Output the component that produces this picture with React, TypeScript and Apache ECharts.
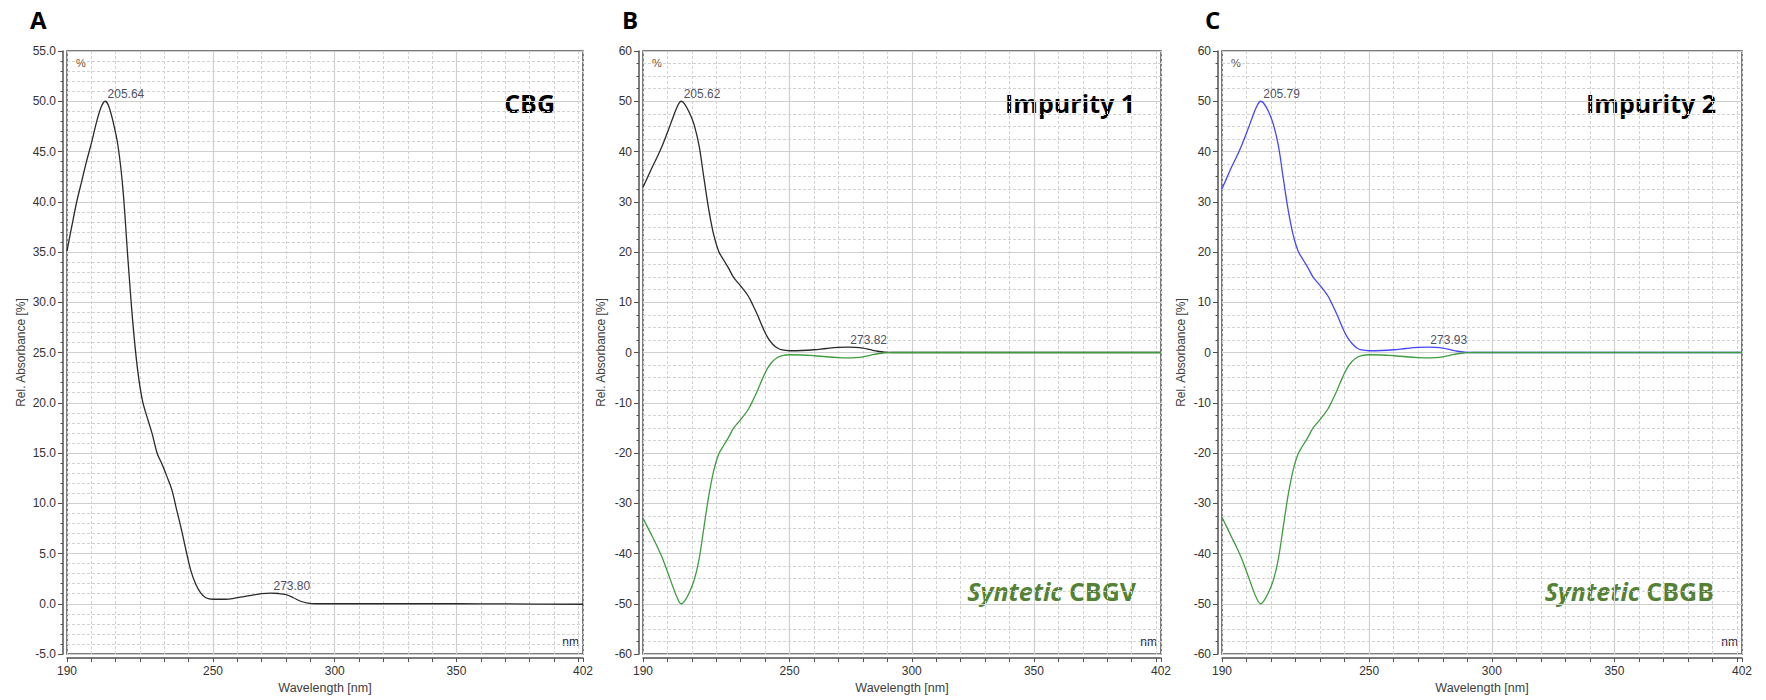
import React, { useEffect, useRef } from "react";
import * as echarts from "echarts";

// ---------------- data ----------------
const wavelengthA = [190, 192, 194, 196, 198, 200, 202, 204, 205.64, 207, 209, 211, 213, 215, 217, 219, 221, 223, 225, 227, 229, 231, 233, 235, 237, 239, 241, 243, 245, 247, 250, 255, 260, 265, 270, 273.8, 277, 280, 283, 286, 289, 292, 300, 350, 370, 402];
const absorbanceCBG = [35.1, 37.6, 40.0, 42.0, 44.0, 45.8, 47.8, 49.4, 50.0, 49.6, 47.9, 45.5, 41.2, 34.4, 28.1, 23.3, 20.2, 18.5, 16.9, 15.0, 13.9, 12.7, 11.4, 9.4, 7.4, 5.2, 3.2, 1.9, 1.05, 0.6, 0.45, 0.45, 0.6, 0.8, 1.0, 1.06, 1.02, 0.9, 0.6, 0.25, 0.06, 0.0, 0.0, 0.0, -0.02, -0.05];

const wavelengthB = [190, 192, 194, 196, 198, 200, 202, 204, 205.62, 207, 209, 211, 213, 215, 217, 219, 221, 223, 225, 227, 229, 231, 233, 235, 237, 239, 241, 243, 245, 247, 250, 255, 260, 265, 270, 273.82, 277, 280, 283, 286, 289, 292, 300, 350, 402];
const absorbanceImpurity1 = [32.9, 35.0, 37.1, 39.1, 41.3, 43.8, 46.4, 48.9, 50.0, 49.5, 47.7, 45.2, 41.0, 34.5, 28.2, 23.3, 20.1, 18.4, 16.8, 15.0, 13.8, 12.6, 11.3, 9.4, 7.3, 5.0, 3.0, 1.7, 0.9, 0.5, 0.35, 0.4, 0.55, 0.8, 1.0, 1.05, 1.0, 0.85, 0.55, 0.25, 0.06, 0.0, 0.0, 0.0, 0.0];
const absorbanceSynteticCBGV = [-33.0, -34.9, -36.8, -38.8, -41.0, -43.6, -46.3, -48.8, -50.0, -49.5, -47.7, -45.2, -41.0, -34.6, -28.3, -23.4, -20.2, -18.5, -16.9, -15.1, -13.9, -12.7, -11.4, -9.5, -7.4, -5.1, -3.1, -1.8, -1.0, -0.6, -0.45, -0.5, -0.65, -0.85, -1.0, -1.05, -1.0, -0.85, -0.55, -0.25, -0.06, 0.0, 0.0, 0.0, 0.0];

const wavelengthC = [190, 192, 194, 196, 198, 200, 202, 204, 205.79, 207, 209, 211, 213, 215, 217, 219, 221, 223, 225, 227, 229, 231, 233, 235, 237, 239, 241, 243, 245, 247, 250, 255, 260, 265, 270, 273.93, 277, 280, 283, 286, 289, 292, 300, 350, 402];
const absorbanceImpurity2 = [32.6, 34.8, 37.0, 39.0, 41.2, 43.7, 46.3, 48.8, 50.0, 49.6, 47.9, 45.3, 41.1, 34.6, 28.3, 23.4, 20.2, 18.5, 16.9, 15.1, 13.9, 12.7, 11.4, 9.5, 7.4, 5.1, 3.1, 1.8, 0.9, 0.5, 0.35, 0.4, 0.55, 0.8, 1.0, 1.05, 1.0, 0.85, 0.55, 0.25, 0.06, 0.0, 0.0, 0.0, 0.0];
const absorbanceSynteticCBGB = [-32.8, -34.8, -36.8, -38.8, -41.0, -43.6, -46.3, -48.8, -50.0, -49.5, -47.7, -45.2, -41.0, -34.6, -28.3, -23.4, -20.2, -18.5, -16.9, -15.1, -13.9, -12.7, -11.4, -9.5, -7.4, -5.1, -3.1, -1.8, -1.0, -0.6, -0.45, -0.5, -0.65, -0.85, -1.0, -1.05, -1.0, -0.85, -0.55, -0.25, -0.06, 0.0, 0.0, 0.0, 0.0];

const peaksA = [[205.64, 50.0], [273.8, 1.06]];
const peaksB = [[205.62, 50.0], [273.82, 1.05]];
const peaksC = [[205.79, 50.0], [273.93, 1.05]];

const xTickValues = [190, 200, 210, 220, 230, 240, 250, 260, 270, 280, 290, 300, 310, 320, 330, 340, 350, 360, 370, 380, 390, 400, 402];
const xLabelValues = [190, 250, 300, 350, 402];
const xMajorGridValues = [250, 300, 350];

// ---------------- styling ----------------
const FONT = "'Liberation Sans', Arial, sans-serif";
const TITLE_FONT = "'Open Sans', 'Noto Sans', sans-serif";
const AXIS_COLOR = "#505050";
const TEXT_COLOR = "#333333";
const BLACK = "#2a2a2a";
const BLUE = "#4646ff";
const GREEN = "#3f9c3f";
const TITLE_GREEN = "#548235";
const GRID_TOP = 51;
const GRID_HEIGHT = 603;

type Line = { wl: number[]; val: number[]; color: string };
type Panel = {
  left: number;
  width: number;
  yMin: number;
  yMax: number;
  yInterval: number;
  minorSplit: number;
  decimals: number;
  nameGap: number;
  lines: Line[];
  peaks: number[][];
};

const panels: Panel[] = [
  {
    left: 67, width: 516, yMin: -5, yMax: 55, yInterval: 5, minorSplit: 5, decimals: 1, nameGap: 36,
    lines: [{ wl: wavelengthA, val: absorbanceCBG, color: BLACK }],
    peaks: peaksA,
  },
  {
    left: 643, width: 518, yMin: -60, yMax: 60, yInterval: 10, minorSplit: 4, decimals: 0, nameGap: 32,
    lines: [
      { wl: wavelengthB, val: absorbanceImpurity1, color: BLACK },
      { wl: wavelengthB, val: absorbanceSynteticCBGV, color: GREEN },
    ],
    peaks: peaksB,
  },
  {
    left: 1222, width: 520, yMin: -60, yMax: 60, yInterval: 10, minorSplit: 4, decimals: 0, nameGap: 31,
    lines: [
      { wl: wavelengthC, val: absorbanceImpurity2, color: BLUE },
      { wl: wavelengthC, val: absorbanceSynteticCBGB, color: GREEN },
    ],
    peaks: peaksC,
  },
];

function buildOption() {
  const grid: any[] = [];
  const xAxis: any[] = [];
  const yAxis: any[] = [];
  const series: any[] = [];
  const graphic: any[] = [];

  panels.forEach((p, i) => {
    grid.push({
      left: p.left, top: GRID_TOP, width: p.width, height: GRID_HEIGHT,
      show: true, borderColor: AXIS_COLOR, borderWidth: 1.5, backgroundColor: "transparent",
      containLabel: false, outerBoundsMode: "none",
    });
    xAxis.push({
      type: "value", gridIndex: i, min: 190, max: 402, offset: 4, position: "bottom",
      name: "Wavelength [nm]", nameLocation: "middle", nameGap: 20,
      nameTextStyle: { fontFamily: FONT, fontSize: 12.5, color: "#404040" },
      axisLine: { show: true, onZero: false, lineStyle: { color: AXIS_COLOR, width: 1.5 } },
      axisTick: { show: true, length: 4, customValues: xTickValues, lineStyle: { color: AXIS_COLOR, width: 1 } },
      axisLabel: {
        show: true, customValues: xLabelValues, margin: 7, fontFamily: FONT, fontSize: 12, color: TEXT_COLOR,
        showMinLabel: true, showMaxLabel: true, hideOverlap: false,
      },
      splitLine: { show: true, lineStyle: { color: "#d2d2d2", width: 1, type: [3, 2] } },
    });
    xAxis.push({
      type: "value", gridIndex: i, min: 190, max: 402, position: "top",
      axisLine: { show: false }, axisLabel: { show: false },
      axisTick: { show: false, customValues: xMajorGridValues },
      splitLine: { show: true, lineStyle: { color: "#cfcfcf", width: 1.2, type: "solid" } },
    });
    yAxis.push({
      type: "value", gridIndex: i, min: p.yMin, max: p.yMax, interval: p.yInterval, offset: 4,
      name: "Rel. Absorbance [%]", nameLocation: "middle", nameGap: p.nameGap, nameRotate: 90,
      nameTextStyle: { fontFamily: FONT, fontSize: 12, color: "#404040" },
      axisLine: { show: true, onZero: false, lineStyle: { color: AXIS_COLOR, width: 1.5 } },
      axisTick: { show: true, length: 5, lineStyle: { color: AXIS_COLOR, width: 1 } },
      minorTick: { show: true, splitNumber: p.minorSplit, length: 2.5, lineStyle: { color: AXIS_COLOR, width: 1 } },
      axisLabel: {
        show: true, margin: 7, fontFamily: FONT, fontSize: 12, color: TEXT_COLOR,
        formatter: (v: number) => v.toFixed(p.decimals),
        showMinLabel: true, showMaxLabel: true, hideOverlap: false,
      },
      splitLine: { show: true, lineStyle: { color: "#cfcfcf", width: 1.2, type: "solid" } },
      minorSplitLine: { show: true, lineStyle: { color: "#d2d2d2", width: 1, type: [3, 2] } },
    });

    p.lines.forEach((ln) => {
      series.push({
        type: "line", xAxisIndex: i * 2, yAxisIndex: i,
        data: ln.wl.map((w, k) => [w, ln.val[k]]),
        smooth: 0.35, showSymbol: false, symbol: "none", silent: true, z: 3,
        lineStyle: { color: ln.color, width: 1.3 }, itemStyle: { color: ln.color },
      });
    });
    series.push({
      type: "scatter", xAxisIndex: i * 2, yAxisIndex: i, data: p.peaks,
      symbolSize: 1, itemStyle: { color: "rgba(0,0,0,0)" }, silent: true, z: 5,
      label: {
        show: true, position: [3, -1], align: "left", verticalAlign: "bottom",
        formatter: (d: any) => Number(d.value[0]).toFixed(2),
        fontFamily: FONT, fontSize: 12, color: "#20203a",
      },
    });

    // "%" and "nm" unit marks inside the plot
    graphic.push({
      type: "text", x: p.left + 9, y: GRID_TOP + 12, silent: true,
      style: { text: "%", fontFamily: FONT, fontSize: 11, fill: "#6a4a2a", lineWidth: 0, align: "left", verticalAlign: "middle" },
    });
    graphic.push({
      type: "text", x: p.left + p.width - 4, y: GRID_TOP + GRID_HEIGHT - 12, silent: true,
      style: { text: "nm", fontFamily: FONT, fontSize: 12, fill: "#1e1e40", lineWidth: 0, align: "right", verticalAlign: "middle" },
    });
  });

  const letters = [["A", 30], ["B", 622], ["C", 1205]] as const;
  letters.forEach(([t, x]) => {
    graphic.push({
      type: "text", x, y: 19, silent: true,
      style: { text: t, fontFamily: TITLE_FONT, fontWeight: "bold", fontSize: 24, fill: "#000", lineWidth: 0, align: "left", verticalAlign: "middle" },
    });
  });

  const titles = [["CBG", 555], ["Impurity 1", 1135], ["Impurity 2", 1716]] as const;
  titles.forEach(([t, x]) => {
    graphic.push({
      type: "text", x, y: 103, silent: true,
      style: { text: t, fontFamily: TITLE_FONT, fontWeight: "bold", fontSize: 25, fill: "#000", lineWidth: 0, align: "right", verticalAlign: "middle" },
    });
  });

  const synt = [["CBGV", 1136], ["CBGB", 1714]] as const;
  synt.forEach(([t, x]) => {
    graphic.push({
      type: "text", x, y: 591, silent: true,
      style: {
        text: `{i|Syntetic} {n|${t}}`,
        fontFamily: TITLE_FONT, fontWeight: "bold", fontSize: 25, fill: TITLE_GREEN, lineWidth: 0,
        align: "right", verticalAlign: "middle",
        rich: {
          i: { fontFamily: TITLE_FONT, fontWeight: "bold", fontStyle: "italic", fontSize: 25, fill: TITLE_GREEN, lineWidth: 0 },
          n: { fontFamily: TITLE_FONT, fontWeight: "bold", fontSize: 25, fill: TITLE_GREEN, lineWidth: 0 },
        },
      },
    });
  });

  return {
    animation: false,
    backgroundColor: "#ffffff",
    grid, xAxis, yAxis, series, graphic,
  };
}

export default function App() {
  const ref = useRef<HTMLDivElement>(null);
  useEffect(() => {
    const chart = echarts.init(ref.current!, null, { renderer: "svg" });
    chart.setOption(buildOption());
    return () => chart.dispose();
  }, []);
  return (
    <div
      ref={ref}
      style={{ position: "absolute", left: 0, top: 0, width: 1766, height: 700, background: "#fff" }}
    />
  );
}
